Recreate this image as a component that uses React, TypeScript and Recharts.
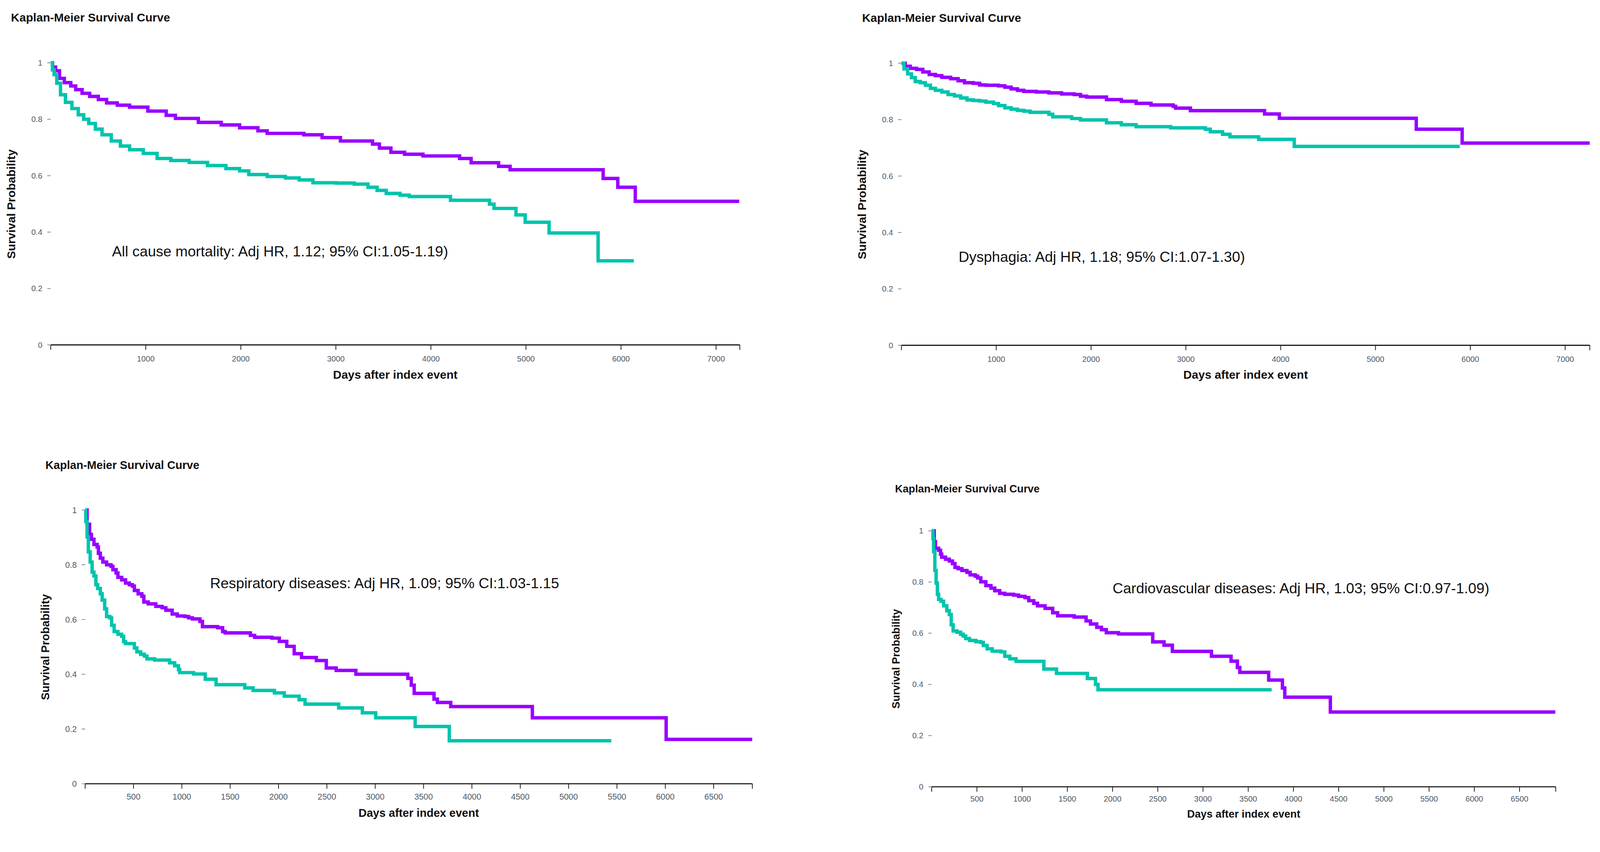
import React from 'react';
import { LineChart, Line, XAxis, YAxis } from 'recharts';

type Pt = [number, number];

// [days, survival]; purple = upper curve, teal = lower curve
const mortalityPurple: Pt[] = [
  [0, 1], [20, 0.985], [52, 0.972], [92, 0.945], [143, 0.93], [211, 0.918], [263, 0.905],
  [330, 0.892], [410, 0.881], [501, 0.87], [588, 0.858], [700, 0.85], [830, 0.843],
  [1022, 0.829], [1215, 0.814], [1312, 0.803], [1553, 0.789], [1794, 0.78], [1987, 0.77],
  [2180, 0.759], [2277, 0.75], [2662, 0.745], [2855, 0.735], [3048, 0.723], [3386, 0.712],
  [3458, 0.698], [3579, 0.683], [3723, 0.676], [3916, 0.67], [4302, 0.661], [4423, 0.646],
  [4712, 0.633], [4833, 0.621], [5812, 0.59], [5966, 0.559], [6150, 0.509], [7244, 0.509],
];
const mortalityTeal: Pt[] = [
  [0, 1], [18, 0.975], [36, 0.958], [64, 0.928], [103, 0.887], [155, 0.86], [223, 0.838],
  [290, 0.816], [347, 0.8], [400, 0.785], [470, 0.765], [540, 0.745], [637, 0.723],
  [733, 0.705], [830, 0.692], [974, 0.679], [1119, 0.661], [1264, 0.654], [1457, 0.647],
  [1650, 0.636], [1843, 0.625], [1987, 0.617], [2084, 0.604], [2277, 0.597], [2469, 0.592],
  [2614, 0.585], [2759, 0.575], [3000, 0.574], [3193, 0.57], [3338, 0.559], [3434, 0.548],
  [3530, 0.537], [3675, 0.531], [3772, 0.526], [4206, 0.513], [4616, 0.499], [4664, 0.484],
  [4895, 0.461], [4992, 0.435], [5243, 0.397], [5759, 0.298], [6135, 0.298],
];

const dysphagiaPurple: Pt[] = [
  [0, 1], [40, 0.989], [93, 0.982], [160, 0.978], [226, 0.969], [293, 0.96], [359, 0.956],
  [426, 0.95], [519, 0.945], [598, 0.938], [665, 0.931], [758, 0.929], [825, 0.923],
  [891, 0.922], [1024, 0.92], [1091, 0.915], [1157, 0.909], [1224, 0.904], [1290, 0.9],
  [1423, 0.898], [1556, 0.895], [1689, 0.891], [1822, 0.889], [1889, 0.883], [1954, 0.88],
  [2163, 0.871], [2319, 0.865], [2475, 0.858], [2632, 0.852], [2866, 0.847], [2892, 0.841],
  [3048, 0.832], [3830, 0.82], [3986, 0.805], [5430, 0.766], [5914, 0.717], [7259, 0.717],
];
const dysphagiaTeal: Pt[] = [
  [0, 1], [27, 0.98], [66, 0.962], [106, 0.949], [146, 0.935], [199, 0.931], [253, 0.922],
  [306, 0.911], [359, 0.904], [426, 0.898], [492, 0.889], [559, 0.884], [625, 0.877],
  [692, 0.87], [758, 0.868], [825, 0.866], [891, 0.862], [971, 0.857], [1024, 0.85],
  [1091, 0.842], [1157, 0.837], [1224, 0.833], [1290, 0.83], [1357, 0.826], [1556, 0.819],
  [1596, 0.81], [1795, 0.804], [1889, 0.799], [2163, 0.789], [2319, 0.782], [2475, 0.775],
  [2840, 0.771], [3205, 0.766], [3257, 0.757], [3387, 0.748], [3465, 0.739], [3768, 0.73],
  [4143, 0.705], [5889, 0.705],
];

const respiratoryPurple: Pt[] = [
  [0, 1], [20, 0.948], [46, 0.911], [65, 0.893], [91, 0.874], [124, 0.865], [137, 0.842],
  [157, 0.824], [183, 0.81], [222, 0.8], [268, 0.794], [287, 0.782], [320, 0.77], [339, 0.754],
  [378, 0.745], [418, 0.733], [457, 0.727], [489, 0.722], [509, 0.706], [548, 0.694],
  [587, 0.685], [607, 0.664], [652, 0.657], [731, 0.648], [796, 0.643], [835, 0.634],
  [900, 0.62], [952, 0.613], [1031, 0.611], [1070, 0.606], [1109, 0.602], [1187, 0.593],
  [1213, 0.574], [1370, 0.57], [1422, 0.556], [1448, 0.551], [1709, 0.542], [1753, 0.535],
  [1932, 0.532], [2008, 0.52], [2085, 0.502], [2162, 0.475], [2238, 0.461], [2391, 0.45],
  [2494, 0.423], [2596, 0.414], [2800, 0.4], [3337, 0.385], [3373, 0.36], [3403, 0.33],
  [3608, 0.309], [3643, 0.297], [3781, 0.282], [4625, 0.241], [6009, 0.162], [6899, 0.162],
];
const respiratoryTeal: Pt[] = [
  [0, 1], [7, 0.958], [20, 0.902], [33, 0.847], [52, 0.81], [72, 0.773], [91, 0.759],
  [111, 0.727], [130, 0.713], [157, 0.694], [176, 0.671], [202, 0.639], [222, 0.611],
  [255, 0.606], [274, 0.579], [300, 0.556], [339, 0.546], [378, 0.539], [398, 0.519],
  [418, 0.512], [509, 0.496], [535, 0.482], [574, 0.473], [613, 0.466], [639, 0.456],
  [718, 0.452], [874, 0.442], [926, 0.431], [965, 0.417], [978, 0.406], [1122, 0.401],
  [1242, 0.382], [1354, 0.362], [1651, 0.35], [1737, 0.341], [1957, 0.332], [2059, 0.32],
  [2213, 0.307], [2274, 0.291], [2622, 0.277], [2867, 0.259], [3005, 0.241], [3413, 0.209],
  [3766, 0.157], [5442, 0.157],
];

const cardioPurple: Pt[] = [
  [0, 1], [28, 0.958], [42, 0.932], [77, 0.924], [98, 0.909], [111, 0.897], [153, 0.889],
  [195, 0.882], [230, 0.872], [258, 0.857], [293, 0.852], [334, 0.845], [390, 0.838],
  [425, 0.828], [481, 0.823], [508, 0.816], [543, 0.801], [599, 0.786], [655, 0.776],
  [697, 0.766], [752, 0.756], [808, 0.752], [906, 0.749], [961, 0.744], [1031, 0.739],
  [1073, 0.727], [1129, 0.717], [1170, 0.707], [1254, 0.697], [1338, 0.68], [1393, 0.668],
  [1575, 0.663], [1707, 0.648], [1756, 0.636], [1825, 0.623], [1877, 0.614], [1931, 0.602],
  [2066, 0.597], [2444, 0.566], [2569, 0.553], [2661, 0.529], [3093, 0.51], [3310, 0.491],
  [3380, 0.466], [3407, 0.447], [3726, 0.417], [3878, 0.386], [3904, 0.35], [4408, 0.292],
  [6895, 0.292],
];
const cardioTeal: Pt[] = [
  [0, 1], [14, 0.97], [21, 0.919], [35, 0.845], [49, 0.796], [63, 0.752], [77, 0.732],
  [104, 0.725], [132, 0.707], [167, 0.688], [195, 0.673], [216, 0.633], [237, 0.609],
  [279, 0.604], [320, 0.596], [348, 0.589], [376, 0.579], [418, 0.572], [488, 0.567],
  [543, 0.564], [571, 0.552], [613, 0.539], [669, 0.53], [766, 0.527], [808, 0.51],
  [864, 0.5], [933, 0.49], [1240, 0.46], [1380, 0.443], [1721, 0.423], [1811, 0.4],
  [1839, 0.379], [3759, 0.379],
];

const yTicks = [0, 0.2, 0.4, 0.6, 0.8, 1];
const xTicksTop = [0, 1000, 2000, 3000, 4000, 5000, 6000, 7000];
const xTicksBottom = [0, 500, 1000, 1500, 2000, 2500, 3000, 3500, 4000, 4500, 5000, 5500, 6000, 6500];

const TITLE = 'Kaplan-Meier Survival Curve';
const Y_LABEL = 'Survival Probability';
const X_LABEL = 'Days after index event';

const PURPLE = '#9900ff';
const TEAL = '#00c4ac';
const SANS = '"Liberation Sans", Arial, sans-serif';
const PAGE_W = 4228;
const PAGE_H = 2180;

type PanelProps = {
  left: number; top: number; right: number; bottom: number;
  xMax: number; xTicks: number[];
  purple: Pt[]; teal: Pt[];
  note: string; noteX: number; noteY: number;
  titleX: number; titleY: number;
  yLabelX: number; xLabelY: number;
  labelSize: number; tickSize: number; tickGap: number;
};

const rows = (pts: Pt[]) => pts.map(([t, s]) => ({ t, s }));

function KMPanel(p: PanelProps) {
  const YW = 130, MT = 20, MR = 30, XH = 80;
  const w = p.right - p.left + YW + MR;
  const h = p.bottom - p.top + MT + XH;
  const tickStyle = { fill: '#4f5a66', fontSize: p.tickSize, fontFamily: SANS };
  const label = { position: 'absolute' as const, whiteSpace: 'nowrap' as const, lineHeight: 1, fontFamily: SANS, color: '#111' };
  return (
    <>
      <div style={{ position: 'absolute', left: p.left - YW, top: p.top - MT }}>
        <LineChart width={w} height={h} margin={{ top: MT, right: MR, bottom: 0, left: 0 }}>
          <XAxis
            type="number"
            dataKey="t"
            domain={[0, p.xMax]}
            ticks={[...p.xTicks, p.xMax]}
            interval={0}
            height={XH}
            tickSize={13}
            tickMargin={p.tickGap}
            axisLine={{ stroke: '#1a1a1a', strokeWidth: 3 }}
            tickLine={{ stroke: '#1a1a1a', strokeWidth: 2 }}
            tick={tickStyle}
            tickFormatter={(v: number) => (v === 0 || v === p.xMax ? '' : String(v))}
          />
          <YAxis
            type="number"
            dataKey="s"
            domain={[0, 1]}
            ticks={yTicks}
            interval={0}
            width={YW}
            axisLine={false}
            tickSize={9}
            tickMargin={13}
            tickLine={{ stroke: '#7d8a97', strokeWidth: 2 }}
            tick={tickStyle}
            tickFormatter={(v: number) => String(v)}
          />
          <Line data={rows(p.purple)} dataKey="s" type="stepAfter" stroke={PURPLE} strokeWidth={9} dot={false} isAnimationActive={false} />
          <Line data={rows(p.teal)} dataKey="s" type="stepAfter" stroke={TEAL} strokeWidth={9} dot={false} isAnimationActive={false} />
        </LineChart>
      </div>
      <div style={{ ...label, left: p.titleX, top: p.titleY, transform: 'translateY(-50%)', fontSize: p.labelSize, fontWeight: 700 }}>
        {TITLE}
      </div>
      <div style={{ ...label, left: p.noteX, top: p.noteY, transform: 'translateY(-50%)', fontSize: 38.7 }}>
        {p.note}
      </div>
      <div style={{ ...label, left: (p.left + p.right) / 2, top: p.xLabelY, transform: 'translate(-50%, -50%)', fontSize: p.labelSize, fontWeight: 700 }}>
        {X_LABEL}
      </div>
      <div style={{ ...label, left: p.yLabelX, top: (p.top + p.bottom) / 2, transform: 'translate(-50%, -50%) rotate(-90deg)', fontSize: p.labelSize, fontWeight: 700 }}>
        {Y_LABEL}
      </div>
    </>
  );
}

export default function App() {
  // fit the 4228x2180 layout into whatever the viewport really is
  const vw = document.documentElement.clientWidth || window.innerWidth || PAGE_W;
  const vh = document.documentElement.clientHeight || window.innerHeight || PAGE_H;
  const scale = Math.min(1, vw / PAGE_W, vh / PAGE_H);
  return (
    <div style={{ position: 'fixed', left: 0, top: 0, right: 0, bottom: 0, overflow: 'hidden', background: '#fff' }}>
      <div style={{ position: 'absolute', left: 0, top: 0, width: PAGE_W, height: PAGE_H, transform: `scale(${scale})`, transformOrigin: '0 0' }}>
        <KMPanel
          left={134} top={166} right={1955} bottom={911} xMax={7250} xTicks={xTicksTop}
          purple={mortalityPurple} teal={mortalityTeal}
          note="All cause mortality: Adj HR, 1.12; 95% CI:1.05-1.19)" noteX={296} noteY={665}
          titleX={29} titleY={46} yLabelX={30} xLabelY={990}
          labelSize={31} tickSize={21} tickGap={16}
        />
        <KMPanel
          left={2382} top={167} right={4201} bottom={912} xMax={7260} xTicks={xTicksTop}
          purple={dysphagiaPurple} teal={dysphagiaTeal}
          note="Dysphagia: Adj HR, 1.18; 95% CI:1.07-1.30)" noteX={2533} noteY={679}
          titleX={2278} titleY={47} yLabelX={2278} xLabelY={990}
          labelSize={31} tickSize={21} tickGap={16}
        />
        <KMPanel
          left={225} top={1347} right={1988} bottom={2070} xMax={6900} xTicks={xTicksBottom}
          purple={respiratoryPurple} teal={respiratoryTeal}
          note="Respiratory diseases: Adj HR, 1.09; 95% CI:1.03-1.15" noteX={555} noteY={1541}
          titleX={120} titleY={1229} yLabelX={120} xLabelY={2147}
          labelSize={30} tickSize={22} tickGap={13}
        />
        <KMPanel
          left={2462} top={1402} right={4111} bottom={2078} xMax={6900} xTicks={xTicksBottom}
          purple={cardioPurple} teal={cardioTeal}
          note="Cardiovascular diseases: Adj HR, 1.03; 95% CI:0.97-1.09)" noteX={2940} noteY={1554}
          titleX={2365} titleY={1291} yLabelX={2367} xLabelY={2150}
          labelSize={28.2} tickSize={21} tickGap={11}
        />
      </div>
    </div>
  );
}
